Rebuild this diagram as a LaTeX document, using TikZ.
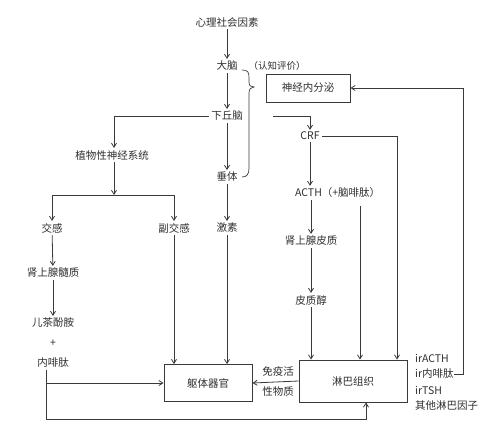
\documentclass[tikz,border=0pt]{standalone}
\usepackage{fontspec}
\setmainfont{Noto Sans CJK SC}
\usetikzlibrary{arrows.meta,calc}
\definecolor{stressink}{HTML}{2E2E2E}
\definecolor{stressline}{HTML}{3A3A3A}
\tikzset{
  stress text/.style={
    text=stressink, font=\fontsize{10.5}{20}\selectfont,
    inner sep=2pt, align=center
  },
  stress box/.style={
    stress text, rectangle, draw=stressline, line width=0.9pt, inner sep=0pt
  },
  stress line/.style={
    draw=stressline, line width=0.8pt, line join=miter
  },
  stress arrow/.style={
    stress line, -{Straight Barb[length=4pt,width=5pt]}
  },
  stress ir/.style={stress text, anchor=west, inner sep=0pt}
}

\begin{document}
\begin{tikzpicture}[x=1pt,y=-1pt]
  \useasboundingbox (0,0) rectangle (500,447);

  % centre column
  \node[stress text] (psych) at (227,22) {心理社会因素};
  \node[stress text] (cerebrum) at (227,66) {大脑};
  \node[stress text,font=\fontsize{9.5}{12}\selectfont] (appraisal) at (277,66) {（认知评价）};
  \node[stress text] (hypo) at (227,116) {下丘脑};
  \node[stress text] (pituitary) at (227,177) {垂体};
  \node[stress text] (hormone) at (227,228) {激素};

  % left branch
  \node[stress text] (autonomic) at (112,155) {植物性神经系统};
  \coordinate (branch) at (114,195);
  \node[stress text] (sympa) at (52,228) {交感};
  \node[stress text] (parasympa) at (174,228) {副交感};
  \node[stress text] (medulla) at (53,273) {肾上腺髓质};
  \node[stress text] (catechol) at (53,323) {儿茶酚胺};
  \node[stress text] (plus) at (53,343) {+};
  \node[stress text] (endorphin) at (53,363) {内啡肽};
  \coordinate (loop) at (46,419);

  % right branch
  \node[stress box,minimum width=84pt,minimum height=28pt] (neuroendo) at (308,88) {神经内分泌};
  \node[stress text] (crf) at (310,136) {CRF};
  \node[stress text,anchor=west] (acth) at (293,193) {ACTH（+脑啡肽）};
  \coordinate (enk) at (360,206);
  \node[stress text] (cortex) at (311,241) {肾上腺皮质};
  \node[stress text] (cortisol) at (311,300) {皮质醇};

  % target boxes
  \node[stress box,minimum width=88pt,minimum height=37pt] (soma) at (208,383) {躯体器官};
  \node[stress box,minimum width=108pt,minimum height=42pt] (lymph) at (353,381) {淋巴组织};
  \node[stress text] (immune) at (278,381) {免疫活\\性物质};
  \node[stress ir] (ir1) at (415,358) {irACTH};
  \node[stress ir] (ir2) at (415,374) {ir内啡肽};
  \node[stress ir] (ir3) at (415,390) {irTSH};
  \node[stress ir] (ir4) at (415,405) {其他淋巴因子};

  % brace
  \draw[stress line,line width=0.7pt] (242,70) .. controls (248,70) and (249,72) .. (249,78)
    -- (249,82) .. controls (249,86) and (251,87) .. (254,87)
    .. controls (251,87) and (249,89) .. (249,93) -- (249,168)
    .. controls (249,174) and (247,177) .. (242,177);

  \draw[stress arrow] (psych) -- (cerebrum);
  \draw[stress arrow] (cerebrum) -- (hypo);
  \draw[stress arrow] (hypo) -- (pituitary);
  \draw[stress arrow] (pituitary) -- (hormone);

  \draw[stress arrow] (hypo.west) -| (autonomic.north -| branch);
  \draw[stress arrow] (autonomic.south -| branch) -- (branch);
  \draw[stress arrow] (branch) -| (sympa.north);
  \draw[stress arrow] (branch) -| (parasympa.north);
  \draw[stress arrow] (sympa) -- (medulla);
  \draw[stress arrow] (medulla) -- (catechol);

  \draw[stress arrow] ([xshift=28pt]hypo.east) -| (crf.north);
  \draw[stress arrow] (crf.south) -- (crf.south |- acth.north);
  \draw[stress arrow] (acth.south -| cortex) -- (cortex);
  \draw[stress arrow] (cortex) -- (cortisol);
  \draw[stress arrow] (cortisol.south) -- (cortisol.south |- lymph.north);
  \draw[stress arrow] (enk) -- (enk |- lymph.north);
  \draw[stress arrow] (crf.east) -| ([xshift=44pt]lymph.north);

  \draw[stress arrow] (parasympa.south) -- (parasympa.south |- soma.north);
  \draw[stress arrow] (hormone.south) -- (hormone.south |- soma.north);
  \draw[stress arrow] (lymph.west) -- (soma.east);

  \draw[stress line] (endorphin.south -| loop) -- (loop);
  \draw[stress arrow] (soma.west -| loop) -- (soma.west);
  \draw[stress arrow] (loop) -| ([xshift=13pt]lymph.south);

  \draw[stress arrow] (ir2.east) -- ++(10,0) |- (neuroendo.east);
\end{tikzpicture}
\end{document}
